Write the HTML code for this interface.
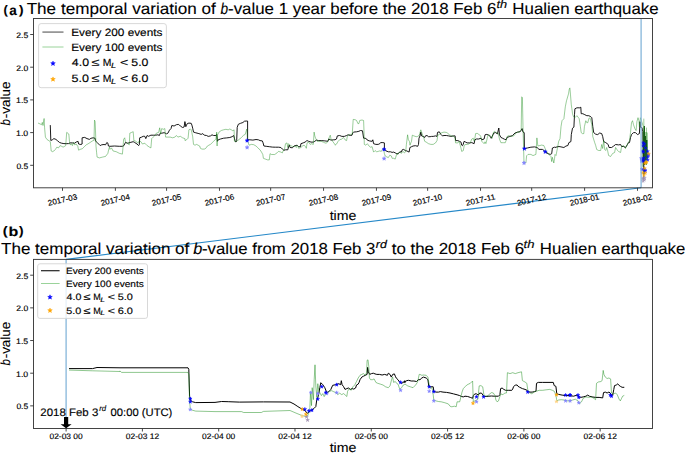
<!DOCTYPE html>
<html><head><meta charset="utf-8"><style>
html,body{margin:0;padding:0;background:#fff;}
svg{display:block;}
text{font-family:"Liberation Sans",sans-serif;text-rendering:geometricPrecision;}
</style></head><body>
<svg width="685" height="453" viewBox="0 0 685 453">
<rect width="685" height="453" fill="#fff"/>
<clipPath id="ca"><rect x="33.5" y="18.5" width="619.0" height="169.3"/></clipPath>
<clipPath id="cb"><rect x="33.5" y="259.4" width="619.0" height="169.10000000000002"/></clipPath>
<g clip-path="url(#ca)">
<polyline points="50.3,125.5 50.8,140.5 52.3,139.8 53.9,138.6 55.9,139.4 57.7,140.9 59.6,142.5 61.6,143.2 63.9,143.6 66.2,143.7 68.5,143.6 70.1,142.9 72.4,142.9 74.7,143.2 76.2,142.0 78.1,141.4 78.6,144.0 80.9,144.5 82.1,144.0 82.1,137.8 84.7,137.4 87.0,138.6 89.4,139.4 90.9,138.3 93.2,137.8 95.1,138.3 95.5,140.9 97.1,142.5 98.6,144.0 100.2,145.6 101.7,144.8 104.0,144.5 105.6,144.8 106.8,142.5 107.9,143.2 108.4,146.0 110.0,146.3 114.6,146.0 119.3,146.3 122.4,146.3 123.9,145.6 124.7,144.0 125.4,142.5 127.8,143.2 130.1,142.5 133.2,141.7 134.7,142.5 137.0,144.0 138.6,145.6 139.3,144.8 139.7,137.8 141.7,137.1 143.2,136.3 144.8,136.3 145.8,138.6 147.1,135.5 148.6,136.3 150.9,135.2 153.2,135.2 155.6,135.2 157.9,134.8 159.4,135.5 160.2,133.2 161.7,133.2 164.1,132.7 165.6,133.2 166.4,134.0 167.9,133.2 169.5,130.1 171.0,128.6 171.8,125.5 174.1,126.0 176.4,124.7 178.7,124.4 180.3,126.0 182.6,127.5 184.1,127.0 184.9,121.6 185.0,122.0 185.8,126.7 186.5,125.1 187.3,123.6 188.9,123.1 191.2,123.3 191.9,125.1 192.7,128.2 193.5,132.1 195.8,132.8 198.9,133.6 201.2,134.4 202.8,133.6 204.3,135.2 206.6,135.5 208.2,136.4 210.5,135.9 212.0,134.8 213.6,135.5 215.9,135.5 216.7,134.4 217.4,141.3 218.2,139.8 220.5,139.0 223.6,138.2 226.7,137.9 229.8,137.5 232.1,136.7 233.7,135.5 234.4,138.2 235.2,141.3 236.0,142.1 236.7,140.6 237.2,127.4 238.3,124.3 240.6,123.3 242.9,122.5 244.5,121.2 246.8,121.0 247.6,121.0 247.6,139.8 249.9,139.8 252.9,140.1 256.0,139.5 258.4,139.8 260.0,140.6 262.3,140.9 263.1,142.9 263.9,146.0 266.2,146.3 269.3,146.7 272.4,147.1 275.4,147.2 278.5,147.2 280.9,147.5 282.4,149.1 283.9,150.3 285.5,149.8 287.8,149.8 288.6,146.7 289.3,145.2 290.1,147.5 292.4,147.8 294.0,146.0 297.1,145.2 298.6,146.7 300.5,146.7 300.9,143.7 303.2,142.9 305.1,142.1 306.3,141.0 307.1,140.6 308.6,141.3 311.0,142.1 313.3,142.1 314.8,141.3 316.4,140.1 318.7,140.6 321.8,140.6 324.9,140.9 327.9,141.3 328.7,139.0 330.3,139.8 331.8,140.1 333.4,139.8 335.0,139.8 336.5,139.0 337.3,135.9 339.6,135.5 341.9,136.4 344.3,136.4 346.6,135.5 348.1,134.8 350.4,135.5 352.0,135.2 352.8,132.8 353.5,132.1 356.6,131.8 358.9,131.3 360.5,130.5 362.5,130.8 363.6,138.2 365.1,138.2 366.7,139.0 367.4,140.2 369.8,141.0 372.1,141.3 372.8,139.8 373.6,143.7 375.9,144.4 378.2,144.4 379.8,143.7 380.6,142.6 382.9,142.6 384.4,142.9 384.4,149.1 386.0,150.9 388.3,151.8 390.6,151.8 392.1,152.4 393.7,152.1 395.2,152.9 396.8,153.7 398.3,153.7 399.9,151.8 401.4,152.1 402.2,149.8 403.7,149.4 405.3,150.6 406.8,150.9 409.1,152.1 409.9,147.5 410.0,147.5 411.5,146.7 413.1,146.0 415.4,145.7 417.7,146.3 418.5,144.4 419.0,138.2 420.0,135.9 420.8,132.1 421.6,135.9 423.1,136.4 424.7,137.5 425.4,135.9 427.0,135.5 428.5,136.7 430.1,136.7 431.6,136.4 433.2,136.4 435.5,135.9 437.0,136.4 437.5,132.4 439.3,131.8 440.9,134.4 442.4,135.9 444.0,135.5 446.3,135.5 448.6,135.9 450.9,136.4 453.2,135.9 455.1,135.9 455.6,140.6 457.9,140.6 459.4,141.3 461.0,142.1 461.7,145.2 462.5,145.7 463.3,144.1 464.1,141.3 465.6,142.1 467.1,142.9 469.5,142.9 471.8,142.6 474.1,143.7 474.9,139.8 476.4,139.0 478.7,139.0 481.0,138.2 481.8,139.8 484.1,139.0 485.0,134.8 486.8,134.4 488.5,135.1 490.3,136.5 491.2,138.3 492.1,136.5 493.8,133.0 495.6,132.6 497.4,133.9 498.8,128.0 499.5,134.8 500.9,137.4 502.7,138.3 504.4,139.2 506.2,139.7 507.1,137.4 509.7,136.5 512.4,135.6 515.0,133.0 517.7,132.1 520.3,131.6 521.2,130.3 522.1,128.6 523.0,132.1 524.2,132.6 524.4,148.7 527.3,148.0 530.9,147.2 534.5,146.9 537.3,147.5 538.8,149.4 542.4,149.4 544.5,150.8 545.9,152.3 548.1,153.7 550.2,154.4 551.7,153.7 552.4,148.0 554.5,147.2 555.0,147.5 557.0,146.9 559.0,146.5 561.0,146.9 563.9,147.5 565.9,146.1 567.9,145.5 568.9,142.6 570.9,141.6 571.3,134.6 572.5,128.2 573.9,127.1 574.5,114.7 574.9,108.8 576.9,107.8 579.8,107.8 580.8,107.2 581.2,113.7 582.8,113.7 584.8,114.7 586.8,115.7 588.8,115.7 590.8,116.7 591.8,117.7 592.8,126.7 593.7,132.6 595.7,134.2 597.7,134.6 599.7,133.0 601.7,133.6 602.7,136.6 603.7,141.6 605.7,142.6 607.1,143.6 608.2,144.5 609.0,147.5 611.6,147.5 613.6,146.1 615.6,144.5 618.6,144.9 620.6,144.5 621.6,146.5 623.5,146.5 625.5,147.5 627.5,144.5 628.5,142.6 629.5,142.6 630.5,137.6 631.5,134.6 633.5,132.6 635.5,132.6 637.5,134.6 639.4,133.6 640.0,121.7 640.5,127.3 642.0,127.6 642.3,130.0 643.0,131.0 643.4,160.0 643.8,166.0 644.3,174.0" fill="none" stroke="#000" stroke-width="0.9" stroke-opacity="1" stroke-linejoin="round" stroke-linecap="round"/>
<polyline points="38.4,123.2 40.0,123.9 41.5,124.7 42.3,122.4 43.0,125.5 44.1,118.5 44.6,127.8 45.4,137.1 46.9,139.4 49.2,140.9 50.3,141.7 51.2,151.0 52.3,151.7 53.9,151.0 55.4,149.4 56.9,147.1 58.5,147.9 60.0,145.6 61.6,146.3 63.1,147.1 64.7,146.3 65.7,145.6 66.7,132.4 67.8,133.2 68.8,134.0 69.5,141.7 70.1,144.8 71.6,144.0 72.4,145.6 73.5,142.5 74.7,144.8 76.2,144.0 77.8,146.3 78.6,150.2 80.1,149.4 82.4,148.7 84.7,146.3 86.3,144.8 87.8,144.0 90.1,142.5 92.5,140.9 94.0,140.2 94.5,120.1 95.1,121.6 95.5,130.9 96.0,146.3 96.6,152.5 97.1,157.1 99.4,157.9 102.5,157.1 105.6,156.4 107.9,153.3 108.7,149.4 109.5,147.1 110.0,149.4 111.5,147.9 113.1,151.0 116.2,151.7 119.3,153.3 122.4,154.1 123.1,146.3 123.6,139.4 124.7,137.8 125.4,141.7 127.0,143.2 129.3,144.8 129.8,133.2 131.6,132.4 133.2,131.7 133.9,140.9 135.5,140.9 137.8,143.2 139.3,140.9 140.9,141.7 142.4,144.0 144.8,143.2 147.1,145.6 149.4,147.1 150.9,147.9 151.7,138.6 153.2,137.1 154.8,135.5 156.3,133.2 158.7,132.4 159.7,127.8 160.7,134.0 161.7,128.6 163.3,129.3 164.8,128.6 165.6,137.1 167.9,137.1 170.2,137.1 172.6,137.8 174.9,137.1 176.4,135.5 177.9,137.1 180.3,136.3 182.6,137.8 184.9,138.6 185.0,140.6 186.5,139.8 188.1,138.2 188.9,129.8 190.4,129.0 191.2,129.8 191.9,132.8 192.7,136.7 193.5,144.4 195.0,145.2 196.6,144.4 198.1,145.2 199.7,146.0 200.4,148.3 202.0,149.1 204.3,149.1 205.8,148.3 207.4,146.0 208.9,145.2 210.5,144.4 212.0,142.9 213.6,141.3 215.1,139.8 215.9,139.0 216.7,132.1 217.1,146.0 217.4,135.2 219.0,132.1 221.3,130.5 223.6,129.8 225.9,129.3 228.2,129.8 229.8,129.0 231.3,129.8 232.9,130.8 234.1,129.8 234.4,141.3 236.0,141.3 237.5,140.6 239.8,139.0 242.1,136.7 243.7,135.2 245.2,134.4 246.8,129.0 247.6,141.3 249.1,145.2 251.4,144.4 253.7,144.7 256.0,146.0 257.6,147.5 259.1,149.1 260.0,149.8 261.5,152.1 262.8,154.5 263.4,158.3 265.4,159.1 267.7,159.9 269.3,159.9 270.0,153.7 271.6,154.5 274.7,154.5 277.0,152.9 278.5,151.4 280.9,152.1 282.4,152.9 283.2,150.6 284.4,149.8 285.5,143.7 287.0,142.9 287.8,147.5 288.6,143.7 290.1,145.2 291.7,146.0 293.2,146.7 294.8,146.0 296.3,147.5 297.1,145.2 297.8,146.0 298.6,148.3 300.9,147.5 302.5,146.0 304.0,145.2 305.6,146.7 306.3,148.3 307.1,142.9 308.6,142.1 310.2,144.4 311.7,143.7 313.3,144.4 314.1,132.1 314.8,135.9 315.6,138.2 316.4,139.8 317.1,141.3 318.7,141.3 321.0,141.3 323.3,142.1 324.9,142.9 326.4,143.2 327.9,141.3 329.5,136.7 330.3,135.2 331.0,139.0 332.6,141.3 334.9,144.4 335.0,145.2 336.5,144.1 338.1,141.3 339.6,139.8 341.9,139.0 343.5,137.5 345.0,139.8 346.6,140.6 347.4,135.9 349.7,134.4 351.7,134.4 352.3,133.3 353.2,119.4 355.1,119.7 356.6,120.5 357.9,123.6 358.9,123.6 359.7,120.5 362.0,120.0 363.6,120.5 364.0,131.3 364.3,144.4 365.9,145.2 367.4,143.7 369.0,146.0 370.5,147.2 372.1,146.7 373.6,152.1 375.1,150.6 376.7,151.8 378.2,151.4 379.8,150.9 381.3,151.4 382.1,149.8 383.6,148.3 384.4,153.7 385.2,156.0 386.7,156.8 388.3,157.6 389.8,155.2 391.4,156.0 392.1,158.3 393.7,158.3 395.2,159.1 396.8,153.7 397.6,154.5 398.3,152.9 399.9,152.1 401.4,153.4 402.9,151.4 404.5,152.9 405.7,151.4 406.4,144.4 407.6,134.8 408.4,139.8 409.4,141.3 410.0,145.2 410.8,142.9 411.5,141.3 412.3,135.2 413.9,135.9 416.2,136.7 417.7,136.4 419.3,135.2 420.8,129.8 422.1,133.6 423.9,138.2 424.7,141.3 426.2,142.1 428.5,143.7 430.9,144.4 433.2,144.4 435.5,142.9 437.0,140.6 437.8,135.2 439.3,134.4 441.7,132.8 444.0,132.1 446.3,132.4 447.8,133.3 449.4,134.8 451.7,135.9 454.0,136.7 455.1,138.2 455.6,142.9 457.9,142.9 459.1,141.3 460.2,145.2 461.0,148.3 461.7,151.4 463.3,150.6 464.1,146.0 464.8,144.7 467.1,144.4 468.7,144.1 470.2,142.9 471.8,139.0 473.3,138.2 474.1,141.3 474.9,138.2 475.6,133.6 477.2,133.3 478.7,134.4 480.3,135.5 481.0,137.0 481.8,141.3 484.1,143.7 485.0,141.8 485.9,143.6 486.8,140.0 487.6,136.5 488.5,134.8 490.3,135.6 492.1,138.3 493.5,132.1 494.7,131.2 496.5,133.0 498.2,133.0 499.5,139.2 500.9,142.7 503.5,142.7 505.3,142.7 506.2,140.0 507.1,136.5 508.8,135.6 511.5,136.5 514.1,135.6 515.9,133.0 517.7,132.1 519.4,132.1 521.2,129.4 521.7,96.8 522.4,97.7 523.0,127.7 524.0,163.0 525.9,163.0 526.6,155.8 528.0,154.4 530.9,154.4 533.0,155.6 535.9,154.4 536.9,137.9 537.8,145.8 538.8,145.8 541.6,145.1 543.8,145.5 545.2,148.7 546.6,151.5 548.8,154.4 551.0,156.6 551.7,161.6 552.4,157.3 553.8,163.0 554.5,158.7 555.0,154.5 556.0,155.5 557.4,148.5 558.6,141.6 560.0,138.6 561.0,126.7 562.0,120.7 563.9,118.7 565.3,106.8 566.5,100.8 568.5,93.9 569.3,88.9 569.9,87.9 570.5,94.9 571.3,104.8 571.9,108.8 572.5,113.7 573.5,116.7 574.9,117.7 576.9,115.7 578.5,117.7 579.2,118.7 580.4,126.7 581.2,132.6 582.4,133.6 583.8,133.6 584.4,126.7 585.8,120.7 586.8,122.7 587.8,122.7 588.8,118.7 589.8,117.7 590.8,120.7 591.8,124.7 592.8,136.6 594.7,142.6 595.7,145.5 596.7,149.5 598.7,150.5 600.7,150.5 601.7,144.5 602.7,148.5 603.7,140.6 604.7,149.5 605.7,150.5 606.7,147.5 607.6,150.5 608.6,155.5 610.6,156.5 612.6,153.5 614.6,152.5 615.6,147.5 617.6,150.5 618.6,151.5 620.6,152.5 621.6,146.5 623.5,145.5 625.5,148.5 627.5,143.6 629.5,140.6 630.5,132.6 631.5,122.7 632.5,120.7 633.5,124.7 634.9,128.7 636.1,130.6 636.9,121.7 638.0,117.7 638.9,120.7 639.4,126.7 640.4,117.7 643.5,127.0 643.8,160.0 644.5,128.0 645.2,163.0 646.0,132.0 646.5,165.0 647.0,140.0 647.3,160.0" fill="none" stroke="#1a8c1a" stroke-width="0.8" stroke-opacity="0.55" stroke-linejoin="round" stroke-linecap="round"/>
<path d="M0.00,-2.50L-0.56,-0.77L-2.38,-0.77L-0.91,0.30L-1.47,2.02L-0.00,0.95L1.47,2.02L0.91,0.30L2.38,-0.77L0.56,-0.77Z" transform="translate(247.1,140.6) scale(0.82)" fill="#0000ff" fill-opacity="1" stroke="#0000ff" stroke-opacity="1" stroke-width="0.6" stroke-linejoin="round"/>
<path d="M0.00,-2.50L-0.56,-0.77L-2.38,-0.77L-0.91,0.30L-1.47,2.02L-0.00,0.95L1.47,2.02L0.91,0.30L2.38,-0.77L0.56,-0.77Z" transform="translate(247.1,147.5) scale(0.82)" fill="#8080ff" fill-opacity="1" stroke="#8080ff" stroke-opacity="1" stroke-width="0.6" stroke-linejoin="round"/>
<path d="M0.00,-2.50L-0.56,-0.77L-2.38,-0.77L-0.91,0.30L-1.47,2.02L-0.00,0.95L1.47,2.02L0.91,0.30L2.38,-0.77L0.56,-0.77Z" transform="translate(384.1,149.4) scale(0.82)" fill="#0000ff" fill-opacity="1" stroke="#0000ff" stroke-opacity="1" stroke-width="0.6" stroke-linejoin="round"/>
<path d="M0.00,-2.50L-0.56,-0.77L-2.38,-0.77L-0.91,0.30L-1.47,2.02L-0.00,0.95L1.47,2.02L0.91,0.30L2.38,-0.77L0.56,-0.77Z" transform="translate(384.1,158.6) scale(0.82)" fill="#8080ff" fill-opacity="1" stroke="#8080ff" stroke-opacity="1" stroke-width="0.6" stroke-linejoin="round"/>
<path d="M0.00,-2.50L-0.56,-0.77L-2.38,-0.77L-0.91,0.30L-1.47,2.02L-0.00,0.95L1.47,2.02L0.91,0.30L2.38,-0.77L0.56,-0.77Z" transform="translate(524.4,148.7) scale(0.82)" fill="#0000ff" fill-opacity="1" stroke="#0000ff" stroke-opacity="1" stroke-width="0.6" stroke-linejoin="round"/>
<path d="M0.00,-2.50L-0.56,-0.77L-2.38,-0.77L-0.91,0.30L-1.47,2.02L-0.00,0.95L1.47,2.02L0.91,0.30L2.38,-0.77L0.56,-0.77Z" transform="translate(524.0,163.0) scale(0.82)" fill="#8080ff" fill-opacity="1" stroke="#8080ff" stroke-opacity="1" stroke-width="0.6" stroke-linejoin="round"/>
<path d="M0.00,-2.50L-0.56,-0.77L-2.38,-0.77L-0.91,0.30L-1.47,2.02L-0.00,0.95L1.47,2.02L0.91,0.30L2.38,-0.77L0.56,-0.77Z" transform="translate(545.2,151.8) scale(0.82)" fill="#0000ff" fill-opacity="1" stroke="#0000ff" stroke-opacity="1" stroke-width="0.6" stroke-linejoin="round"/>
<polyline points="643.8,119.0 644.0,150.0" fill="none" stroke="#1a8c1a" stroke-width="0.7" stroke-opacity="0.6" stroke-linejoin="round" stroke-linecap="round"/>
<polyline points="646.5,128.0 646.8,160.0" fill="none" stroke="#1a8c1a" stroke-width="0.7" stroke-opacity="0.6" stroke-linejoin="round" stroke-linecap="round"/>
<polyline points="647.3,133.0 647.5,158.0" fill="none" stroke="#1a8c1a" stroke-width="0.7" stroke-opacity="0.6" stroke-linejoin="round" stroke-linecap="round"/>
<polyline points="642.5,163.0 642.6,166.5" fill="none" stroke="#1a8c1a" stroke-width="0.7" stroke-opacity="0.6" stroke-linejoin="round" stroke-linecap="round"/>
<polyline points="643.0,132.0 643.2,162.0 644.4,126.0 644.6,165.0 645.4,136.0 645.8,160.0 646.6,140.0 647.0,158.0" fill="none" stroke="#0b4d0b" stroke-width="0.9" stroke-opacity="0.85" stroke-linejoin="round" stroke-linecap="round"/>
<polyline points="643.4,150.0 643.5,178.5" fill="none" stroke="#1a3a1a" stroke-width="0.7" stroke-opacity="0.8" stroke-linejoin="round" stroke-linecap="round"/>
<path d="M0.00,-2.50L-0.56,-0.77L-2.38,-0.77L-0.91,0.30L-1.47,2.02L-0.00,0.95L1.47,2.02L0.91,0.30L2.38,-0.77L0.56,-0.77Z" transform="translate(643.1,142.8) scale(0.72)" fill="#0000ff" fill-opacity="0.8" stroke="#0000ff" stroke-opacity="0.8" stroke-width="0.6" stroke-linejoin="round"/>
<path d="M0.00,-2.50L-0.56,-0.77L-2.38,-0.77L-0.91,0.30L-1.47,2.02L-0.00,0.95L1.47,2.02L0.91,0.30L2.38,-0.77L0.56,-0.77Z" transform="translate(643.1,145.7) scale(0.72)" fill="#0000ff" fill-opacity="0.8" stroke="#0000ff" stroke-opacity="0.8" stroke-width="0.6" stroke-linejoin="round"/>
<path d="M0.00,-2.50L-0.56,-0.77L-2.38,-0.77L-0.91,0.30L-1.47,2.02L-0.00,0.95L1.47,2.02L0.91,0.30L2.38,-0.77L0.56,-0.77Z" transform="translate(642.7,151.3) scale(0.72)" fill="#0000ff" fill-opacity="0.8" stroke="#0000ff" stroke-opacity="0.8" stroke-width="0.6" stroke-linejoin="round"/>
<path d="M0.00,-2.50L-0.56,-0.77L-2.38,-0.77L-0.91,0.30L-1.47,2.02L-0.00,0.95L1.47,2.02L0.91,0.30L2.38,-0.77L0.56,-0.77Z" transform="translate(643.4,152.0) scale(0.72)" fill="#0000ff" fill-opacity="0.8" stroke="#0000ff" stroke-opacity="0.8" stroke-width="0.6" stroke-linejoin="round"/>
<path d="M0.00,-2.50L-0.56,-0.77L-2.38,-0.77L-0.91,0.30L-1.47,2.02L-0.00,0.95L1.47,2.02L0.91,0.30L2.38,-0.77L0.56,-0.77Z" transform="translate(648.4,154.5) scale(0.72)" fill="#0000ff" fill-opacity="0.8" stroke="#0000ff" stroke-opacity="0.8" stroke-width="0.6" stroke-linejoin="round"/>
<path d="M0.00,-2.50L-0.56,-0.77L-2.38,-0.77L-0.91,0.30L-1.47,2.02L-0.00,0.95L1.47,2.02L0.91,0.30L2.38,-0.77L0.56,-0.77Z" transform="translate(647.7,151.3) scale(0.72)" fill="#0000ff" fill-opacity="0.8" stroke="#0000ff" stroke-opacity="0.8" stroke-width="0.6" stroke-linejoin="round"/>
<path d="M0.00,-2.50L-0.56,-0.77L-2.38,-0.77L-0.91,0.30L-1.47,2.02L-0.00,0.95L1.47,2.02L0.91,0.30L2.38,-0.77L0.56,-0.77Z" transform="translate(641.3,158.4) scale(0.72)" fill="#0000ff" fill-opacity="0.8" stroke="#0000ff" stroke-opacity="0.8" stroke-width="0.6" stroke-linejoin="round"/>
<path d="M0.00,-2.50L-0.56,-0.77L-2.38,-0.77L-0.91,0.30L-1.47,2.02L-0.00,0.95L1.47,2.02L0.91,0.30L2.38,-0.77L0.56,-0.77Z" transform="translate(642.4,159.8) scale(0.72)" fill="#0000ff" fill-opacity="0.8" stroke="#0000ff" stroke-opacity="0.8" stroke-width="0.6" stroke-linejoin="round"/>
<path d="M0.00,-2.50L-0.56,-0.77L-2.38,-0.77L-0.91,0.30L-1.47,2.02L-0.00,0.95L1.47,2.02L0.91,0.30L2.38,-0.77L0.56,-0.77Z" transform="translate(644.1,158.0) scale(0.72)" fill="#0000ff" fill-opacity="0.8" stroke="#0000ff" stroke-opacity="0.8" stroke-width="0.6" stroke-linejoin="round"/>
<path d="M0.00,-2.50L-0.56,-0.77L-2.38,-0.77L-0.91,0.30L-1.47,2.02L-0.00,0.95L1.47,2.02L0.91,0.30L2.38,-0.77L0.56,-0.77Z" transform="translate(648.0,156.6) scale(0.72)" fill="#0000ff" fill-opacity="0.8" stroke="#0000ff" stroke-opacity="0.8" stroke-width="0.6" stroke-linejoin="round"/>
<path d="M0.00,-2.50L-0.56,-0.77L-2.38,-0.77L-0.91,0.30L-1.47,2.02L-0.00,0.95L1.47,2.02L0.91,0.30L2.38,-0.77L0.56,-0.77Z" transform="translate(647.7,159.8) scale(0.72)" fill="#0000ff" fill-opacity="0.8" stroke="#0000ff" stroke-opacity="0.8" stroke-width="0.6" stroke-linejoin="round"/>
<path d="M0.00,-2.50L-0.56,-0.77L-2.38,-0.77L-0.91,0.30L-1.47,2.02L-0.00,0.95L1.47,2.02L0.91,0.30L2.38,-0.77L0.56,-0.77Z" transform="translate(641.7,161.2) scale(0.72)" fill="#0000ff" fill-opacity="0.8" stroke="#0000ff" stroke-opacity="0.8" stroke-width="0.6" stroke-linejoin="round"/>
<path d="M0.00,-2.50L-0.56,-0.77L-2.38,-0.77L-0.91,0.30L-1.47,2.02L-0.00,0.95L1.47,2.02L0.91,0.30L2.38,-0.77L0.56,-0.77Z" transform="translate(644.0,161.2) scale(0.72)" fill="#0000ff" fill-opacity="0.8" stroke="#0000ff" stroke-opacity="0.8" stroke-width="0.6" stroke-linejoin="round"/>
<path d="M0.00,-2.50L-0.56,-0.77L-2.38,-0.77L-0.91,0.30L-1.47,2.02L-0.00,0.95L1.47,2.02L0.91,0.30L2.38,-0.77L0.56,-0.77Z" transform="translate(641.9,169.3) scale(0.72)" fill="#0000ff" fill-opacity="0.8" stroke="#0000ff" stroke-opacity="0.8" stroke-width="0.6" stroke-linejoin="round"/>
<path d="M0.00,-2.50L-0.56,-0.77L-2.38,-0.77L-0.91,0.30L-1.47,2.02L-0.00,0.95L1.47,2.02L0.91,0.30L2.38,-0.77L0.56,-0.77Z" transform="translate(645.0,169.9) scale(0.72)" fill="#0000ff" fill-opacity="0.8" stroke="#0000ff" stroke-opacity="0.8" stroke-width="0.6" stroke-linejoin="round"/>
<path d="M0.00,-2.50L-0.56,-0.77L-2.38,-0.77L-0.91,0.30L-1.47,2.02L-0.00,0.95L1.47,2.02L0.91,0.30L2.38,-0.77L0.56,-0.77Z" transform="translate(645.3,171.1) scale(0.72)" fill="#0000ff" fill-opacity="0.8" stroke="#0000ff" stroke-opacity="0.8" stroke-width="0.6" stroke-linejoin="round"/>
<path d="M0.00,-2.50L-0.56,-0.77L-2.38,-0.77L-0.91,0.30L-1.47,2.02L-0.00,0.95L1.47,2.02L0.91,0.30L2.38,-0.77L0.56,-0.77Z" transform="translate(644.5,144.0) scale(0.72)" fill="#0000ff" fill-opacity="0.8" stroke="#0000ff" stroke-opacity="0.8" stroke-width="0.6" stroke-linejoin="round"/>
<path d="M0.00,-2.50L-0.56,-0.77L-2.38,-0.77L-0.91,0.30L-1.47,2.02L-0.00,0.95L1.47,2.02L0.91,0.30L2.38,-0.77L0.56,-0.77Z" transform="translate(645.5,148.0) scale(0.72)" fill="#0000ff" fill-opacity="0.8" stroke="#0000ff" stroke-opacity="0.8" stroke-width="0.6" stroke-linejoin="round"/>
<path d="M0.00,-2.50L-0.56,-0.77L-2.38,-0.77L-0.91,0.30L-1.47,2.02L-0.00,0.95L1.47,2.02L0.91,0.30L2.38,-0.77L0.56,-0.77Z" transform="translate(648.7,153.8) scale(0.72)" fill="#ffa500" fill-opacity="0.8" stroke="#ffa500" stroke-opacity="0.8" stroke-width="0.6" stroke-linejoin="round"/>
<path d="M0.00,-2.50L-0.56,-0.77L-2.38,-0.77L-0.91,0.30L-1.47,2.02L-0.00,0.95L1.47,2.02L0.91,0.30L2.38,-0.77L0.56,-0.77Z" transform="translate(644.8,163.4) scale(0.72)" fill="#ffa500" fill-opacity="0.8" stroke="#ffa500" stroke-opacity="0.8" stroke-width="0.6" stroke-linejoin="round"/>
<path d="M0.00,-2.50L-0.56,-0.77L-2.38,-0.77L-0.91,0.30L-1.47,2.02L-0.00,0.95L1.47,2.02L0.91,0.30L2.38,-0.77L0.56,-0.77Z" transform="translate(646.6,162.0) scale(0.72)" fill="#ffa500" fill-opacity="0.8" stroke="#ffa500" stroke-opacity="0.8" stroke-width="0.6" stroke-linejoin="round"/>
<path d="M0.00,-2.50L-0.56,-0.77L-2.38,-0.77L-0.91,0.30L-1.47,2.02L-0.00,0.95L1.47,2.02L0.91,0.30L2.38,-0.77L0.56,-0.77Z" transform="translate(645.9,162.5) scale(0.72)" fill="#ffa500" fill-opacity="0.8" stroke="#ffa500" stroke-opacity="0.8" stroke-width="0.6" stroke-linejoin="round"/>
<path d="M0.00,-2.50L-0.56,-0.77L-2.38,-0.77L-0.91,0.30L-1.47,2.02L-0.00,0.95L1.47,2.02L0.91,0.30L2.38,-0.77L0.56,-0.77Z" transform="translate(644.6,168.3) scale(0.72)" fill="#ffa500" fill-opacity="0.8" stroke="#ffa500" stroke-opacity="0.8" stroke-width="0.6" stroke-linejoin="round"/>
<path d="M0.00,-2.50L-0.56,-0.77L-2.38,-0.77L-0.91,0.30L-1.47,2.02L-0.00,0.95L1.47,2.02L0.91,0.30L2.38,-0.77L0.56,-0.77Z" transform="translate(645.3,173.0) scale(0.72)" fill="#ffa500" fill-opacity="0.8" stroke="#ffa500" stroke-opacity="0.8" stroke-width="0.6" stroke-linejoin="round"/>
<path d="M0.00,-2.50L-0.56,-0.77L-2.38,-0.77L-0.91,0.30L-1.47,2.02L-0.00,0.95L1.47,2.02L0.91,0.30L2.38,-0.77L0.56,-0.77Z" transform="translate(642.2,172.7) scale(0.72)" fill="#ffa500" fill-opacity="0.8" stroke="#ffa500" stroke-opacity="0.8" stroke-width="0.6" stroke-linejoin="round"/>
<path d="M0.00,-2.50L-0.56,-0.77L-2.38,-0.77L-0.91,0.30L-1.47,2.02L-0.00,0.95L1.47,2.02L0.91,0.30L2.38,-0.77L0.56,-0.77Z" transform="translate(644.0,175.4) scale(0.72)" fill="#ffa500" fill-opacity="0.8" stroke="#ffa500" stroke-opacity="0.8" stroke-width="0.6" stroke-linejoin="round"/>
<path d="M0.00,-2.50L-0.56,-0.77L-2.38,-0.77L-0.91,0.30L-1.47,2.02L-0.00,0.95L1.47,2.02L0.91,0.30L2.38,-0.77L0.56,-0.77Z" transform="translate(642.8,178.5) scale(0.72)" fill="#9f8fb0" fill-opacity="0.8" stroke="#9f8fb0" stroke-opacity="0.8" stroke-width="0.6" stroke-linejoin="round"/>
<path d="M0.00,-2.50L-0.56,-0.77L-2.38,-0.77L-0.91,0.30L-1.47,2.02L-0.00,0.95L1.47,2.02L0.91,0.30L2.38,-0.77L0.56,-0.77Z" transform="translate(644.3,179.8) scale(0.72)" fill="#9f8fb0" fill-opacity="0.8" stroke="#9f8fb0" stroke-opacity="0.8" stroke-width="0.6" stroke-linejoin="round"/>
<path d="M0.00,-2.50L-0.56,-0.77L-2.38,-0.77L-0.91,0.30L-1.47,2.02L-0.00,0.95L1.47,2.02L0.91,0.30L2.38,-0.77L0.56,-0.77Z" transform="translate(643.1,181.0) scale(0.72)" fill="#9f8fb0" fill-opacity="0.8" stroke="#9f8fb0" stroke-opacity="0.8" stroke-width="0.6" stroke-linejoin="round"/>
<path d="M0.00,-2.50L-0.56,-0.77L-2.38,-0.77L-0.91,0.30L-1.47,2.02L-0.00,0.95L1.47,2.02L0.91,0.30L2.38,-0.77L0.56,-0.77Z" transform="translate(644.6,177.9) scale(0.72)" fill="#9f8fb0" fill-opacity="0.8" stroke="#9f8fb0" stroke-opacity="0.8" stroke-width="0.6" stroke-linejoin="round"/>
</g>
<g clip-path="url(#cb)">
<polyline points="69.4,368.6 92.6,368.6 97.0,367.5 120.0,367.8 188.0,367.8 188.8,369.3 189.6,396.4 190.3,400.2 192.6,401.8 195.7,402.6 215.0,402.4 221.6,401.5 228.2,401.7 239.3,402.1 263.5,401.9 290.0,402.0 294.0,404.0 297.9,406.6 301.9,409.1 304.9,410.5 307.5,413.5 308.9,411.9 310.9,410.5 313.8,408.6 315.8,406.6 316.8,399.6 317.8,397.6 318.8,393.6 319.8,387.7 320.8,382.7 322.8,384.7 324.8,387.7 326.8,392.6 328.7,391.7 330.7,389.7 332.7,385.3 335.7,384.7 338.7,383.7 340.7,384.7 341.3,380.7 342.1,384.7 343.6,386.7 345.0,389.4 346.8,388.6 348.5,388.0 350.3,389.4 352.1,388.6 353.8,389.1 355.6,388.0 356.5,385.0 358.2,384.1 359.1,382.4 360.0,379.7 361.8,377.1 363.5,376.2 365.3,375.3 367.1,374.4 367.6,367.4 368.3,371.8 369.7,374.4 371.5,373.6 373.3,373.2 375.0,373.9 376.8,374.4 379.4,374.4 382.1,375.0 384.7,374.4 387.4,375.3 388.3,373.2 390.0,374.4 391.3,377.1 392.7,374.4 394.4,373.9 395.3,376.2 396.2,378.0 398.0,379.7 399.8,382.4 401.5,383.3 403.3,382.4 405.0,381.5 406.8,380.6 408.6,380.3 411.2,381.0 413.9,381.0 416.5,381.5 418.3,379.7 420.0,379.7 421.8,378.0 423.5,377.1 426.2,378.0 427.9,379.7 428.8,386.3 430.6,386.8 433.2,386.8 433.8,391.2 435.9,392.1 438.5,392.1 440.3,391.6 443.0,392.1 446.5,392.4 450.0,393.0 453.6,393.9 457.1,394.8 459.7,395.6 461.5,396.5 463.3,396.9 465.0,396.2 467.7,396.5 470.3,397.4 472.6,398.3 473.3,395.6 474.8,393.9 476.5,393.9 478.3,395.1 479.7,393.0 481.8,393.3 483.6,396.2 486.2,396.5 488.9,396.2 491.5,396.0 494.2,396.2 495.0,396.2 498.5,396.2 499.9,394.8 500.6,388.6 502.1,388.0 503.8,389.4 505.6,390.3 508.2,390.3 511.8,390.3 512.7,389.1 513.5,386.8 515.3,385.0 517.1,385.0 518.0,386.3 519.7,387.3 522.4,388.6 525.0,389.4 527.1,390.3 527.7,391.6 529.4,392.1 532.1,392.1 534.7,391.6 536.0,391.2 536.5,383.3 538.3,382.4 542.7,382.4 548.0,382.4 553.3,382.4 554.2,385.6 555.9,386.3 556.8,393.9 558.6,394.4 562.1,395.1 565.6,395.6 569.2,395.6 570.0,395.6 573.5,396.2 577.1,395.1 578.8,396.5 580.6,397.4 583.2,396.9 585.9,396.2 587.7,395.1 589.4,396.2 592.1,396.9 595.6,397.4 599.1,397.4 602.7,397.9 603.5,392.6 605.3,392.1 607.1,393.0 608.9,392.1 610.3,393.0 611.5,395.6 612.7,395.1 613.8,389.4 614.5,385.6 616.3,385.0 617.7,383.8 618.6,385.0 620.3,386.3 622.1,387.3 623.9,387.3" fill="none" stroke="#000" stroke-width="1.0" stroke-opacity="1" stroke-linejoin="round" stroke-linecap="round"/>
<polyline points="69.4,370.1 92.6,370.8 120.0,371.5 120.0,370.9 121.5,372.4 188.0,372.4 188.8,374.7 189.6,401.0 190.3,408.7 192.6,410.3 195.7,411.1 215.0,411.6 241.5,411.6 243.7,412.5 261.3,412.5 263.5,411.4 290.0,410.5 296.0,413.1 301.9,415.5 305.9,416.5 307.9,415.5 309.9,407.6 310.5,391.7 311.5,405.6 312.2,387.7 313.4,399.6 314.2,379.7 315.0,364.8 315.8,385.7 316.8,397.6 317.8,383.7 318.8,390.7 319.8,392.6 321.4,395.6 322.8,393.6 324.2,396.6 325.8,393.6 327.8,392.6 329.7,391.3 331.7,390.7 333.7,391.7 335.7,392.6 337.7,394.6 339.7,393.2 341.7,394.6 343.6,393.6 345.0,394.8 346.8,396.5 347.6,391.2 349.4,388.6 351.2,390.3 352.9,386.8 354.7,385.0 356.5,381.5 358.2,378.0 360.0,375.3 361.8,374.4 363.5,373.6 365.3,375.3 366.6,372.7 367.1,360.3 368.0,359.8 368.8,366.5 369.4,378.0 370.6,379.7 372.4,379.7 374.1,378.9 375.9,382.4 377.7,383.3 380.3,384.1 383.0,385.0 385.6,386.8 388.3,387.7 390.0,385.9 391.8,378.9 392.7,377.1 393.6,382.4 395.3,381.5 396.6,383.3 398.0,384.1 399.8,389.4 401.5,387.7 403.3,385.0 405.0,384.1 407.7,385.9 410.3,386.8 413.0,387.7 415.6,385.0 417.4,382.4 418.3,378.9 419.2,374.4 420.0,374.4 421.8,375.3 423.5,375.0 426.2,375.3 427.9,377.1 428.8,382.4 429.7,387.7 431.5,387.7 432.7,390.3 433.8,400.0 435.9,400.9 438.5,401.5 441.2,401.8 444.7,402.7 448.3,403.9 450.0,406.2 451.8,406.8 454.4,406.2 456.2,406.8 457.1,401.8 459.7,401.8 461.0,396.5 462.0,392.1 463.3,388.6 465.0,386.8 466.8,385.0 468.6,384.1 470.3,383.3 472.6,381.0 473.3,401.8 474.8,400.9 476.5,400.0 477.9,399.2 479.2,385.9 480.9,385.6 482.7,386.8 483.9,394.8 485.3,396.2 488.0,395.6 489.8,393.9 491.5,392.6 493.3,393.0 495.0,395.6 495.9,400.0 497.1,401.8 498.5,400.9 499.9,396.5 501.2,393.9 502.9,394.8 504.7,393.0 506.5,393.0 507.4,372.7 510.0,373.6 512.7,372.7 515.3,373.6 518.0,372.7 521.5,371.8 522.4,380.6 525.0,382.0 526.8,383.3 527.7,389.4 529.4,392.1 531.2,393.9 533.0,393.0 534.7,391.6 536.5,391.2 539.1,390.3 542.7,390.3 546.2,389.8 549.8,389.4 552.4,390.3 554.2,391.2 555.9,394.8 556.8,400.9 558.6,400.0 561.2,399.7 563.9,400.0 567.4,400.9 570.0,400.9 572.6,400.0 575.3,399.2 578.0,400.9 579.7,403.6 581.5,401.8 583.2,398.3 585.9,396.9 588.5,397.4 591.2,396.9 593.8,398.3 595.6,399.7 596.5,383.3 598.3,382.0 600.9,381.5 602.1,380.6 603.2,370.4 603.9,374.4 605.3,377.1 607.1,378.5 608.9,378.0 610.6,378.9 611.5,393.0 613.3,393.9 615.6,393.0 617.3,394.8 619.1,399.2 620.3,400.9 621.6,398.3 622.6,396.2 623.9,395.6" fill="none" stroke="#1a8c1a" stroke-width="0.9" stroke-opacity="0.55" stroke-linejoin="round" stroke-linecap="round"/>
<path d="M0.00,-2.50L-0.56,-0.77L-2.38,-0.77L-0.91,0.30L-1.47,2.02L-0.00,0.95L1.47,2.02L0.91,0.30L2.38,-0.77L0.56,-0.77Z" transform="translate(190.3,398.7) scale(0.74)" fill="#0000ff" fill-opacity="1" stroke="#0000ff" stroke-opacity="1" stroke-width="0.6" stroke-linejoin="round"/>
<path d="M0.00,-2.50L-0.56,-0.77L-2.38,-0.77L-0.91,0.30L-1.47,2.02L-0.00,0.95L1.47,2.02L0.91,0.30L2.38,-0.77L0.56,-0.77Z" transform="translate(190.3,401.8) scale(0.74)" fill="#0000ff" fill-opacity="1" stroke="#0000ff" stroke-opacity="1" stroke-width="0.6" stroke-linejoin="round"/>
<path d="M0.00,-2.50L-0.56,-0.77L-2.38,-0.77L-0.91,0.30L-1.47,2.02L-0.00,0.95L1.47,2.02L0.91,0.30L2.38,-0.77L0.56,-0.77Z" transform="translate(190.3,409.5) scale(0.74)" fill="#8080ff" fill-opacity="1" stroke="#8080ff" stroke-opacity="1" stroke-width="0.6" stroke-linejoin="round"/>
<path d="M0.00,-2.50L-0.56,-0.77L-2.38,-0.77L-0.91,0.30L-1.47,2.02L-0.00,0.95L1.47,2.02L0.91,0.30L2.38,-0.77L0.56,-0.77Z" transform="translate(310.9,392.6) scale(0.74)" fill="#8080ff" fill-opacity="1" stroke="#8080ff" stroke-opacity="1" stroke-width="0.6" stroke-linejoin="round"/>
<path d="M0.00,-2.50L-0.56,-0.77L-2.38,-0.77L-0.91,0.30L-1.47,2.02L-0.00,0.95L1.47,2.02L0.91,0.30L2.38,-0.77L0.56,-0.77Z" transform="translate(317.8,393.6) scale(0.74)" fill="#8080ff" fill-opacity="1" stroke="#8080ff" stroke-opacity="1" stroke-width="0.6" stroke-linejoin="round"/>
<path d="M0.00,-2.50L-0.56,-0.77L-2.38,-0.77L-0.91,0.30L-1.47,2.02L-0.00,0.95L1.47,2.02L0.91,0.30L2.38,-0.77L0.56,-0.77Z" transform="translate(326.8,393.6) scale(0.74)" fill="#8080ff" fill-opacity="1" stroke="#8080ff" stroke-opacity="1" stroke-width="0.6" stroke-linejoin="round"/>
<path d="M0.00,-2.50L-0.56,-0.77L-2.38,-0.77L-0.91,0.30L-1.47,2.02L-0.00,0.95L1.47,2.02L0.91,0.30L2.38,-0.77L0.56,-0.77Z" transform="translate(336.7,392.6) scale(0.74)" fill="#8080ff" fill-opacity="1" stroke="#8080ff" stroke-opacity="1" stroke-width="0.6" stroke-linejoin="round"/>
<path d="M0.00,-2.50L-0.56,-0.77L-2.38,-0.77L-0.91,0.30L-1.47,2.02L-0.00,0.95L1.47,2.02L0.91,0.30L2.38,-0.77L0.56,-0.77Z" transform="translate(317.8,399.0) scale(0.74)" fill="#0000ff" fill-opacity="1" stroke="#0000ff" stroke-opacity="1" stroke-width="0.6" stroke-linejoin="round"/>
<path d="M0.00,-2.50L-0.56,-0.77L-2.38,-0.77L-0.91,0.30L-1.47,2.02L-0.00,0.95L1.47,2.02L0.91,0.30L2.38,-0.77L0.56,-0.77Z" transform="translate(321.8,386.7) scale(0.74)" fill="#0000ff" fill-opacity="1" stroke="#0000ff" stroke-opacity="1" stroke-width="0.6" stroke-linejoin="round"/>
<path d="M0.00,-2.50L-0.56,-0.77L-2.38,-0.77L-0.91,0.30L-1.47,2.02L-0.00,0.95L1.47,2.02L0.91,0.30L2.38,-0.77L0.56,-0.77Z" transform="translate(325.8,392.6) scale(0.74)" fill="#0000ff" fill-opacity="1" stroke="#0000ff" stroke-opacity="1" stroke-width="0.6" stroke-linejoin="round"/>
<path d="M0.00,-2.50L-0.56,-0.77L-2.38,-0.77L-0.91,0.30L-1.47,2.02L-0.00,0.95L1.47,2.02L0.91,0.30L2.38,-0.77L0.56,-0.77Z" transform="translate(336.7,384.7) scale(0.74)" fill="#0000ff" fill-opacity="1" stroke="#0000ff" stroke-opacity="1" stroke-width="0.6" stroke-linejoin="round"/>
<path d="M0.00,-2.50L-0.56,-0.77L-2.38,-0.77L-0.91,0.30L-1.47,2.02L-0.00,0.95L1.47,2.02L0.91,0.30L2.38,-0.77L0.56,-0.77Z" transform="translate(302.0,416.2) scale(0.74)" fill="#ffd280" fill-opacity="1" stroke="#ffd280" stroke-opacity="1" stroke-width="0.6" stroke-linejoin="round"/>
<path d="M0.00,-2.50L-0.56,-0.77L-2.38,-0.77L-0.91,0.30L-1.47,2.02L-0.00,0.95L1.47,2.02L0.91,0.30L2.38,-0.77L0.56,-0.77Z" transform="translate(307.6,420.1) scale(0.74)" fill="#9f8fb0" fill-opacity="1" stroke="#9f8fb0" stroke-opacity="1" stroke-width="0.6" stroke-linejoin="round"/>
<path d="M0.00,-2.50L-0.56,-0.77L-2.38,-0.77L-0.91,0.30L-1.47,2.02L-0.00,0.95L1.47,2.02L0.91,0.30L2.38,-0.77L0.56,-0.77Z" transform="translate(306.6,416.8) scale(0.74)" fill="#9f8fb0" fill-opacity="1" stroke="#9f8fb0" stroke-opacity="1" stroke-width="0.6" stroke-linejoin="round"/>
<path d="M0.00,-2.50L-0.56,-0.77L-2.38,-0.77L-0.91,0.30L-1.47,2.02L-0.00,0.95L1.47,2.02L0.91,0.30L2.38,-0.77L0.56,-0.77Z" transform="translate(302.3,409.2) scale(0.74)" fill="#ffa500" fill-opacity="1" stroke="#ffa500" stroke-opacity="1" stroke-width="0.6" stroke-linejoin="round"/>
<path d="M0.00,-2.50L-0.56,-0.77L-2.38,-0.77L-0.91,0.30L-1.47,2.02L-0.00,0.95L1.47,2.02L0.91,0.30L2.38,-0.77L0.56,-0.77Z" transform="translate(305.9,414.2) scale(0.74)" fill="#ffa500" fill-opacity="1" stroke="#ffa500" stroke-opacity="1" stroke-width="0.6" stroke-linejoin="round"/>
<path d="M0.00,-2.50L-0.56,-0.77L-2.38,-0.77L-0.91,0.30L-1.47,2.02L-0.00,0.95L1.47,2.02L0.91,0.30L2.38,-0.77L0.56,-0.77Z" transform="translate(304.9,409.2) scale(0.74)" fill="#0000ff" fill-opacity="1" stroke="#0000ff" stroke-opacity="1" stroke-width="0.6" stroke-linejoin="round"/>
<path d="M0.00,-2.50L-0.56,-0.77L-2.38,-0.77L-0.91,0.30L-1.47,2.02L-0.00,0.95L1.47,2.02L0.91,0.30L2.38,-0.77L0.56,-0.77Z" transform="translate(308.9,410.9) scale(0.74)" fill="#0000ff" fill-opacity="1" stroke="#0000ff" stroke-opacity="1" stroke-width="0.6" stroke-linejoin="round"/>
<path d="M0.00,-2.50L-0.56,-0.77L-2.38,-0.77L-0.91,0.30L-1.47,2.02L-0.00,0.95L1.47,2.02L0.91,0.30L2.38,-0.77L0.56,-0.77Z" transform="translate(311.9,410.2) scale(0.74)" fill="#0000ff" fill-opacity="1" stroke="#0000ff" stroke-opacity="1" stroke-width="0.6" stroke-linejoin="round"/>
<path d="M0.00,-2.50L-0.56,-0.77L-2.38,-0.77L-0.91,0.30L-1.47,2.02L-0.00,0.95L1.47,2.02L0.91,0.30L2.38,-0.77L0.56,-0.77Z" transform="translate(400.6,390.3) scale(0.74)" fill="#8080ff" fill-opacity="1" stroke="#8080ff" stroke-opacity="1" stroke-width="0.6" stroke-linejoin="round"/>
<path d="M0.00,-2.50L-0.56,-0.77L-2.38,-0.77L-0.91,0.30L-1.47,2.02L-0.00,0.95L1.47,2.02L0.91,0.30L2.38,-0.77L0.56,-0.77Z" transform="translate(400.6,382.4) scale(0.74)" fill="#0000ff" fill-opacity="1" stroke="#0000ff" stroke-opacity="1" stroke-width="0.6" stroke-linejoin="round"/>
<path d="M0.00,-2.50L-0.56,-0.77L-2.38,-0.77L-0.91,0.30L-1.47,2.02L-0.00,0.95L1.47,2.02L0.91,0.30L2.38,-0.77L0.56,-0.77Z" transform="translate(404.7,381.7) scale(0.74)" fill="k" fill-opacity="1" stroke="k" stroke-opacity="1" stroke-width="0.6" stroke-linejoin="round"/>
<path d="M0.00,-2.50L-0.56,-0.77L-2.38,-0.77L-0.91,0.30L-1.47,2.02L-0.00,0.95L1.47,2.02L0.91,0.30L2.38,-0.77L0.56,-0.77Z" transform="translate(429.2,391.2) scale(0.74)" fill="#8080ff" fill-opacity="1" stroke="#8080ff" stroke-opacity="1" stroke-width="0.6" stroke-linejoin="round"/>
<path d="M0.00,-2.50L-0.56,-0.77L-2.38,-0.77L-0.91,0.30L-1.47,2.02L-0.00,0.95L1.47,2.02L0.91,0.30L2.38,-0.77L0.56,-0.77Z" transform="translate(433.8,400.9) scale(0.74)" fill="#8080ff" fill-opacity="1" stroke="#8080ff" stroke-opacity="1" stroke-width="0.6" stroke-linejoin="round"/>
<path d="M0.00,-2.50L-0.56,-0.77L-2.38,-0.77L-0.91,0.30L-1.47,2.02L-0.00,0.95L1.47,2.02L0.91,0.30L2.38,-0.77L0.56,-0.77Z" transform="translate(476.5,401.8) scale(0.74)" fill="#8080ff" fill-opacity="1" stroke="#8080ff" stroke-opacity="1" stroke-width="0.6" stroke-linejoin="round"/>
<path d="M0.00,-2.50L-0.56,-0.77L-2.38,-0.77L-0.91,0.30L-1.47,2.02L-0.00,0.95L1.47,2.02L0.91,0.30L2.38,-0.77L0.56,-0.77Z" transform="translate(473.0,403.2) scale(0.74)" fill="#ffa500" fill-opacity="1" stroke="#ffa500" stroke-opacity="1" stroke-width="0.6" stroke-linejoin="round"/>
<path d="M0.00,-2.50L-0.56,-0.77L-2.38,-0.77L-0.91,0.30L-1.47,2.02L-0.00,0.95L1.47,2.02L0.91,0.30L2.38,-0.77L0.56,-0.77Z" transform="translate(429.2,386.8) scale(0.74)" fill="#0000ff" fill-opacity="1" stroke="#0000ff" stroke-opacity="1" stroke-width="0.6" stroke-linejoin="round"/>
<path d="M0.00,-2.50L-0.56,-0.77L-2.38,-0.77L-0.91,0.30L-1.47,2.02L-0.00,0.95L1.47,2.02L0.91,0.30L2.38,-0.77L0.56,-0.77Z" transform="translate(433.8,391.6) scale(0.74)" fill="#0000ff" fill-opacity="1" stroke="#0000ff" stroke-opacity="1" stroke-width="0.6" stroke-linejoin="round"/>
<path d="M0.00,-2.50L-0.56,-0.77L-2.38,-0.77L-0.91,0.30L-1.47,2.02L-0.00,0.95L1.47,2.02L0.91,0.30L2.38,-0.77L0.56,-0.77Z" transform="translate(476.5,396.9) scale(0.74)" fill="#0000ff" fill-opacity="1" stroke="#0000ff" stroke-opacity="1" stroke-width="0.6" stroke-linejoin="round"/>
<path d="M0.00,-2.50L-0.56,-0.77L-2.38,-0.77L-0.91,0.30L-1.47,2.02L-0.00,0.95L1.47,2.02L0.91,0.30L2.38,-0.77L0.56,-0.77Z" transform="translate(483.6,396.9) scale(0.74)" fill="#0000ff" fill-opacity="1" stroke="#0000ff" stroke-opacity="1" stroke-width="0.6" stroke-linejoin="round"/>
<path d="M0.00,-2.50L-0.56,-0.77L-2.38,-0.77L-0.91,0.30L-1.47,2.02L-0.00,0.95L1.47,2.02L0.91,0.30L2.38,-0.77L0.56,-0.77Z" transform="translate(565.6,400.9) scale(0.74)" fill="#8080ff" fill-opacity="1" stroke="#8080ff" stroke-opacity="1" stroke-width="0.6" stroke-linejoin="round"/>
<path d="M0.00,-2.50L-0.56,-0.77L-2.38,-0.77L-0.91,0.30L-1.47,2.02L-0.00,0.95L1.47,2.02L0.91,0.30L2.38,-0.77L0.56,-0.77Z" transform="translate(570.1,400.9) scale(0.74)" fill="#8080ff" fill-opacity="1" stroke="#8080ff" stroke-opacity="1" stroke-width="0.6" stroke-linejoin="round"/>
<path d="M0.00,-2.50L-0.56,-0.77L-2.38,-0.77L-0.91,0.30L-1.47,2.02L-0.00,0.95L1.47,2.02L0.91,0.30L2.38,-0.77L0.56,-0.77Z" transform="translate(556.5,401.5) scale(0.74)" fill="#ffd280" fill-opacity="1" stroke="#ffd280" stroke-opacity="1" stroke-width="0.6" stroke-linejoin="round"/>
<path d="M0.00,-2.50L-0.56,-0.77L-2.38,-0.77L-0.91,0.30L-1.47,2.02L-0.00,0.95L1.47,2.02L0.91,0.30L2.38,-0.77L0.56,-0.77Z" transform="translate(556.5,394.8) scale(0.74)" fill="#ffa500" fill-opacity="1" stroke="#ffa500" stroke-opacity="1" stroke-width="0.6" stroke-linejoin="round"/>
<path d="M0.00,-2.50L-0.56,-0.77L-2.38,-0.77L-0.91,0.30L-1.47,2.02L-0.00,0.95L1.47,2.02L0.91,0.30L2.38,-0.77L0.56,-0.77Z" transform="translate(527.7,392.1) scale(0.74)" fill="#0000ff" fill-opacity="1" stroke="#0000ff" stroke-opacity="1" stroke-width="0.6" stroke-linejoin="round"/>
<path d="M0.00,-2.50L-0.56,-0.77L-2.38,-0.77L-0.91,0.30L-1.47,2.02L-0.00,0.95L1.47,2.02L0.91,0.30L2.38,-0.77L0.56,-0.77Z" transform="translate(565.6,395.1) scale(0.74)" fill="#0000ff" fill-opacity="1" stroke="#0000ff" stroke-opacity="1" stroke-width="0.6" stroke-linejoin="round"/>
<path d="M0.00,-2.50L-0.56,-0.77L-2.38,-0.77L-0.91,0.30L-1.47,2.02L-0.00,0.95L1.47,2.02L0.91,0.30L2.38,-0.77L0.56,-0.77Z" transform="translate(570.1,395.1) scale(0.74)" fill="#0000ff" fill-opacity="1" stroke="#0000ff" stroke-opacity="1" stroke-width="0.6" stroke-linejoin="round"/>
<path d="M0.00,-2.50L-0.56,-0.77L-2.38,-0.77L-0.91,0.30L-1.47,2.02L-0.00,0.95L1.47,2.02L0.91,0.30L2.38,-0.77L0.56,-0.77Z" transform="translate(578.8,402.7) scale(0.74)" fill="#8080ff" fill-opacity="1" stroke="#8080ff" stroke-opacity="1" stroke-width="0.6" stroke-linejoin="round"/>
<path d="M0.00,-2.50L-0.56,-0.77L-2.38,-0.77L-0.91,0.30L-1.47,2.02L-0.00,0.95L1.47,2.02L0.91,0.30L2.38,-0.77L0.56,-0.77Z" transform="translate(570.0,395.1) scale(0.74)" fill="#0000ff" fill-opacity="1" stroke="#0000ff" stroke-opacity="1" stroke-width="0.6" stroke-linejoin="round"/>
<path d="M0.00,-2.50L-0.56,-0.77L-2.38,-0.77L-0.91,0.30L-1.47,2.02L-0.00,0.95L1.47,2.02L0.91,0.30L2.38,-0.77L0.56,-0.77Z" transform="translate(578.0,395.1) scale(0.74)" fill="#0000ff" fill-opacity="1" stroke="#0000ff" stroke-opacity="1" stroke-width="0.6" stroke-linejoin="round"/>
<path d="M0.00,-2.50L-0.56,-0.77L-2.38,-0.77L-0.91,0.30L-1.47,2.02L-0.00,0.95L1.47,2.02L0.91,0.30L2.38,-0.77L0.56,-0.77Z" transform="translate(578.8,397.4) scale(0.74)" fill="#0000ff" fill-opacity="1" stroke="#0000ff" stroke-opacity="1" stroke-width="0.6" stroke-linejoin="round"/>
<path d="M0.00,-2.50L-0.56,-0.77L-2.38,-0.77L-0.91,0.30L-1.47,2.02L-0.00,0.95L1.47,2.02L0.91,0.30L2.38,-0.77L0.56,-0.77Z" transform="translate(611.5,396.2) scale(0.74)" fill="#0000ff" fill-opacity="1" stroke="#0000ff" stroke-opacity="1" stroke-width="0.6" stroke-linejoin="round"/>
<path d="M0.00,-2.50L-0.56,-0.77L-2.38,-0.77L-0.91,0.30L-1.47,2.02L-0.00,0.95L1.47,2.02L0.91,0.30L2.38,-0.77L0.56,-0.77Z" transform="translate(610.3,395.1) scale(0.74)" fill="#0000ff" fill-opacity="1" stroke="#0000ff" stroke-opacity="1" stroke-width="0.6" stroke-linejoin="round"/>
</g>
<line x1="641.1" y1="18.5" x2="641.1" y2="187.8" stroke="#86b6da" stroke-width="1.3"/>
<line x1="641.1" y1="187.8" x2="66.1" y2="259.4" stroke="#2588c8" stroke-width="1.1"/>
<line x1="66.1" y1="259.4" x2="66.1" y2="428.5" stroke="#86b6da" stroke-width="1.3"/>
<rect x="38.6" y="23.6" width="127.8" height="64.1" rx="2.5" fill="#fff" fill-opacity="0.8" stroke="#d4d4d4" stroke-width="0.9"/>
<line x1="42.4" y1="32.1" x2="63.5" y2="32.1" stroke="#8c8c8c" stroke-width="1.6"/>
<line x1="42.4" y1="47.0" x2="63.5" y2="47.0" stroke="#9ad39a" stroke-width="1"/>
<path d="M0.00,-2.50L-0.56,-0.77L-2.38,-0.77L-0.91,0.30L-1.47,2.02L-0.00,0.95L1.47,2.02L0.91,0.30L2.38,-0.77L0.56,-0.77Z" transform="translate(53.0,63.5) scale(0.95)" fill="#0000ff" fill-opacity="1" stroke="#0000ff" stroke-opacity="1" stroke-width="0.6" stroke-linejoin="round"/>
<path d="M0.00,-2.50L-0.56,-0.77L-2.38,-0.77L-0.91,0.30L-1.47,2.02L-0.00,0.95L1.47,2.02L0.91,0.30L2.38,-0.77L0.56,-0.77Z" transform="translate(53.0,79.3) scale(0.95)" fill="#ffa500" fill-opacity="1" stroke="#ffa500" stroke-opacity="1" stroke-width="0.6" stroke-linejoin="round"/>
<text x="71.26" y="35.60" font-size="10.6" textLength="91.18" lengthAdjust="spacingAndGlyphs" fill="#000" stroke="#000" stroke-width="0.15" >Every 200 events</text>
<text x="71.26" y="50.60" font-size="10.6" textLength="91.18" lengthAdjust="spacingAndGlyphs" fill="#000" stroke="#000" stroke-width="0.15" >Every 100 events</text>
<text x="71.85" y="65.60" font-size="10.6" textLength="17.18" lengthAdjust="spacingAndGlyphs" fill="#000" stroke="#000" stroke-width="0.15" >4.0</text>
<text x="91.47" y="65.60" font-size="10.6" textLength="7.95" lengthAdjust="spacingAndGlyphs" fill="#000" stroke="#000" stroke-width="0.15" >≤</text>
<text x="102.77" y="65.60" font-size="10.6" textLength="8.64" lengthAdjust="spacingAndGlyphs" fill="#000" stroke="#000" stroke-width="0.15" >M</text>
<text x="110.93" y="67.70" font-size="7.632" textLength="5.08" lengthAdjust="spacingAndGlyphs" font-style="italic" fill="#000" stroke="#000" stroke-width="0.15" >L</text>
<text x="119.96" y="65.60" font-size="10.6" textLength="8.26" lengthAdjust="spacingAndGlyphs" fill="#000" stroke="#000" stroke-width="0.15" >&lt;</text>
<text x="131.31" y="65.60" font-size="10.6" textLength="17.13" lengthAdjust="spacingAndGlyphs" fill="#000" stroke="#000" stroke-width="0.15" >5.0</text>
<text x="71.60" y="81.50" font-size="10.6" textLength="17.44" lengthAdjust="spacingAndGlyphs" fill="#000" stroke="#000" stroke-width="0.15" >5.0</text>
<text x="91.47" y="81.50" font-size="10.6" textLength="7.95" lengthAdjust="spacingAndGlyphs" fill="#000" stroke="#000" stroke-width="0.15" >≤</text>
<text x="102.77" y="81.50" font-size="10.6" textLength="8.64" lengthAdjust="spacingAndGlyphs" fill="#000" stroke="#000" stroke-width="0.15" >M</text>
<text x="110.93" y="83.60" font-size="7.632" textLength="5.08" lengthAdjust="spacingAndGlyphs" font-style="italic" fill="#000" stroke="#000" stroke-width="0.15" >L</text>
<text x="119.96" y="81.50" font-size="10.6" textLength="8.26" lengthAdjust="spacingAndGlyphs" fill="#000" stroke="#000" stroke-width="0.15" >&lt;</text>
<text x="131.18" y="81.50" font-size="10.6" textLength="17.26" lengthAdjust="spacingAndGlyphs" fill="#000" stroke="#000" stroke-width="0.15" >6.0</text>
<rect x="37.7" y="263.8" width="109.8" height="54.6" rx="2.2" fill="#fff" fill-opacity="0.8" stroke="#d4d4d4" stroke-width="0.9"/>
<line x1="41.0" y1="270.7" x2="59.6" y2="270.7" stroke="#222" stroke-width="1.2"/>
<line x1="41.0" y1="283.5" x2="59.6" y2="283.5" stroke="#9ad39a" stroke-width="1"/>
<path d="M0.00,-2.50L-0.56,-0.77L-2.38,-0.77L-0.91,0.30L-1.47,2.02L-0.00,0.95L1.47,2.02L0.91,0.30L2.38,-0.77L0.56,-0.77Z" transform="translate(50.0,297.2) scale(0.95)" fill="#0000ff" fill-opacity="1" stroke="#0000ff" stroke-opacity="1" stroke-width="0.6" stroke-linejoin="round"/>
<path d="M0.00,-2.50L-0.56,-0.77L-2.38,-0.77L-0.91,0.30L-1.47,2.02L-0.00,0.95L1.47,2.02L0.91,0.30L2.38,-0.77L0.56,-0.77Z" transform="translate(50.0,310.5) scale(0.95)" fill="#ffa500" fill-opacity="1" stroke="#ffa500" stroke-opacity="1" stroke-width="0.6" stroke-linejoin="round"/>
<text x="65.99" y="273.90" font-size="9.2" textLength="77.77" lengthAdjust="spacingAndGlyphs" fill="#000" stroke="#000" stroke-width="0.15" >Every 200 events</text>
<text x="65.99" y="286.90" font-size="9.2" textLength="77.77" lengthAdjust="spacingAndGlyphs" fill="#000" stroke="#000" stroke-width="0.15" >Every 100 events</text>
<text x="66.59" y="300.20" font-size="9.2" textLength="14.79" lengthAdjust="spacingAndGlyphs" fill="#000" stroke="#000" stroke-width="0.15" >4.0</text>
<text x="83.42" y="300.20" font-size="9.2" textLength="6.94" lengthAdjust="spacingAndGlyphs" fill="#000" stroke="#000" stroke-width="0.15" >≤</text>
<text x="93.18" y="300.20" font-size="9.2" textLength="7.53" lengthAdjust="spacingAndGlyphs" fill="#000" stroke="#000" stroke-width="0.15" >M</text>
<text x="100.35" y="302.00" font-size="6.624" textLength="4.72" lengthAdjust="spacingAndGlyphs" font-style="italic" fill="#000" stroke="#000" stroke-width="0.15" >L</text>
<text x="107.85" y="300.20" font-size="9.2" textLength="7.20" lengthAdjust="spacingAndGlyphs" fill="#000" stroke="#000" stroke-width="0.15" >&lt;</text>
<text x="117.77" y="300.20" font-size="9.2" textLength="15.12" lengthAdjust="spacingAndGlyphs" fill="#000" stroke="#000" stroke-width="0.15" >5.0</text>
<text x="66.37" y="313.50" font-size="9.2" textLength="15.01" lengthAdjust="spacingAndGlyphs" fill="#000" stroke="#000" stroke-width="0.15" >5.0</text>
<text x="83.42" y="313.50" font-size="9.2" textLength="6.94" lengthAdjust="spacingAndGlyphs" fill="#000" stroke="#000" stroke-width="0.15" >≤</text>
<text x="93.18" y="313.50" font-size="9.2" textLength="7.53" lengthAdjust="spacingAndGlyphs" fill="#000" stroke="#000" stroke-width="0.15" >M</text>
<text x="100.35" y="315.30" font-size="6.624" textLength="4.72" lengthAdjust="spacingAndGlyphs" font-style="italic" fill="#000" stroke="#000" stroke-width="0.15" >L</text>
<text x="107.85" y="313.50" font-size="9.2" textLength="7.20" lengthAdjust="spacingAndGlyphs" fill="#000" stroke="#000" stroke-width="0.15" >&lt;</text>
<text x="117.65" y="313.50" font-size="9.2" textLength="15.23" lengthAdjust="spacingAndGlyphs" fill="#000" stroke="#000" stroke-width="0.15" >6.0</text>
<rect x="33.5" y="18.5" width="619.0" height="169.3" fill="none" stroke="#3a3a3a" stroke-width="0.95"/>
<rect x="33.5" y="259.4" width="619.0" height="169.10000000000002" fill="none" stroke="#3a3a3a" stroke-width="0.95"/>
<line x1="30.2" y1="34.50" x2="33.5" y2="34.50" stroke="#333" stroke-width="0.9"/>
<text x="16.27" y="38.00" font-size="7.9" textLength="11.98" lengthAdjust="spacingAndGlyphs" fill="#000" stroke="#000" stroke-width="0.15" >2.5</text>
<line x1="30.2" y1="67.20" x2="33.5" y2="67.20" stroke="#333" stroke-width="0.9"/>
<text x="16.27" y="70.70" font-size="7.9" textLength="11.93" lengthAdjust="spacingAndGlyphs" fill="#000" stroke="#000" stroke-width="0.15" >2.0</text>
<line x1="30.2" y1="99.90" x2="33.5" y2="99.90" stroke="#333" stroke-width="0.9"/>
<text x="16.04" y="103.40" font-size="7.9" textLength="12.21" lengthAdjust="spacingAndGlyphs" fill="#000" stroke="#000" stroke-width="0.15" >1.5</text>
<line x1="30.2" y1="132.60" x2="33.5" y2="132.60" stroke="#333" stroke-width="0.9"/>
<text x="16.04" y="136.10" font-size="7.9" textLength="12.16" lengthAdjust="spacingAndGlyphs" fill="#000" stroke="#000" stroke-width="0.15" >1.0</text>
<line x1="30.2" y1="165.30" x2="33.5" y2="165.30" stroke="#333" stroke-width="0.9"/>
<text x="16.40" y="168.80" font-size="7.9" textLength="11.84" lengthAdjust="spacingAndGlyphs" fill="#000" stroke="#000" stroke-width="0.15" >0.5</text>
<line x1="30.2" y1="275.20" x2="33.5" y2="275.20" stroke="#333" stroke-width="0.9"/>
<text x="16.27" y="278.70" font-size="7.9" textLength="11.98" lengthAdjust="spacingAndGlyphs" fill="#000" stroke="#000" stroke-width="0.15" >2.5</text>
<line x1="30.2" y1="307.87" x2="33.5" y2="307.87" stroke="#333" stroke-width="0.9"/>
<text x="16.27" y="311.37" font-size="7.9" textLength="11.93" lengthAdjust="spacingAndGlyphs" fill="#000" stroke="#000" stroke-width="0.15" >2.0</text>
<line x1="30.2" y1="340.53" x2="33.5" y2="340.53" stroke="#333" stroke-width="0.9"/>
<text x="16.04" y="344.03" font-size="7.9" textLength="12.21" lengthAdjust="spacingAndGlyphs" fill="#000" stroke="#000" stroke-width="0.15" >1.5</text>
<line x1="30.2" y1="373.19" x2="33.5" y2="373.19" stroke="#333" stroke-width="0.9"/>
<text x="16.04" y="376.69" font-size="7.9" textLength="12.16" lengthAdjust="spacingAndGlyphs" fill="#000" stroke="#000" stroke-width="0.15" >1.0</text>
<line x1="30.2" y1="405.86" x2="33.5" y2="405.86" stroke="#333" stroke-width="0.9"/>
<text x="16.40" y="409.36" font-size="7.9" textLength="11.84" lengthAdjust="spacingAndGlyphs" fill="#000" stroke="#000" stroke-width="0.15" >0.5</text>
<line x1="62.50" y1="187.8" x2="62.50" y2="190.8" stroke="#333" stroke-width="0.9"/>
<g transform="rotate(-13 62.50 199.8)">
<text x="47.49" y="202.55" font-size="7.9" textLength="29.93" lengthAdjust="spacingAndGlyphs" fill="#000" stroke="#000" stroke-width="0.15" >2017-03</text>
</g>
<line x1="115.39" y1="187.8" x2="115.39" y2="190.8" stroke="#333" stroke-width="0.9"/>
<g transform="rotate(-13 115.39 199.8)">
<text x="100.39" y="202.55" font-size="7.9" textLength="29.81" lengthAdjust="spacingAndGlyphs" fill="#000" stroke="#000" stroke-width="0.15" >2017-04</text>
</g>
<line x1="166.58" y1="187.8" x2="166.58" y2="190.8" stroke="#333" stroke-width="0.9"/>
<g transform="rotate(-13 166.58 199.8)">
<text x="151.57" y="202.55" font-size="7.9" textLength="29.93" lengthAdjust="spacingAndGlyphs" fill="#000" stroke="#000" stroke-width="0.15" >2017-05</text>
</g>
<line x1="219.47" y1="187.8" x2="219.47" y2="190.8" stroke="#333" stroke-width="0.9"/>
<g transform="rotate(-13 219.47 199.8)">
<text x="204.46" y="202.55" font-size="7.9" textLength="29.93" lengthAdjust="spacingAndGlyphs" fill="#000" stroke="#000" stroke-width="0.15" >2017-06</text>
</g>
<line x1="270.66" y1="187.8" x2="270.66" y2="190.8" stroke="#333" stroke-width="0.9"/>
<g transform="rotate(-13 270.66 199.8)">
<text x="255.65" y="202.55" font-size="7.9" textLength="29.98" lengthAdjust="spacingAndGlyphs" fill="#000" stroke="#000" stroke-width="0.15" >2017-07</text>
</g>
<line x1="323.55" y1="187.8" x2="323.55" y2="190.8" stroke="#333" stroke-width="0.9"/>
<g transform="rotate(-13 323.55 199.8)">
<text x="308.54" y="202.55" font-size="7.9" textLength="29.93" lengthAdjust="spacingAndGlyphs" fill="#000" stroke="#000" stroke-width="0.15" >2017-08</text>
</g>
<line x1="376.44" y1="187.8" x2="376.44" y2="190.8" stroke="#333" stroke-width="0.9"/>
<g transform="rotate(-13 376.44 199.8)">
<text x="361.43" y="202.55" font-size="7.9" textLength="29.98" lengthAdjust="spacingAndGlyphs" fill="#000" stroke="#000" stroke-width="0.15" >2017-09</text>
</g>
<line x1="427.63" y1="187.8" x2="427.63" y2="190.8" stroke="#333" stroke-width="0.9"/>
<g transform="rotate(-13 427.63 199.8)">
<text x="412.62" y="202.55" font-size="7.9" textLength="29.89" lengthAdjust="spacingAndGlyphs" fill="#000" stroke="#000" stroke-width="0.15" >2017-10</text>
</g>
<line x1="480.52" y1="187.8" x2="480.52" y2="190.8" stroke="#333" stroke-width="0.9"/>
<g transform="rotate(-13 480.52 199.8)">
<text x="465.50" y="202.55" font-size="7.9" textLength="30.00" lengthAdjust="spacingAndGlyphs" fill="#000" stroke="#000" stroke-width="0.15" >2017-11</text>
</g>
<line x1="531.70" y1="187.8" x2="531.70" y2="190.8" stroke="#333" stroke-width="0.9"/>
<g transform="rotate(-13 531.70 199.8)">
<text x="516.70" y="202.55" font-size="7.9" textLength="29.98" lengthAdjust="spacingAndGlyphs" fill="#000" stroke="#000" stroke-width="0.15" >2017-12</text>
</g>
<line x1="584.60" y1="187.8" x2="584.60" y2="190.8" stroke="#333" stroke-width="0.9"/>
<g transform="rotate(-13 584.60 199.8)">
<text x="569.59" y="202.55" font-size="7.9" textLength="29.98" lengthAdjust="spacingAndGlyphs" fill="#000" stroke="#000" stroke-width="0.15" >2018-01</text>
</g>
<line x1="637.49" y1="187.8" x2="637.49" y2="190.8" stroke="#333" stroke-width="0.9"/>
<g transform="rotate(-13 637.49 199.8)">
<text x="622.48" y="202.55" font-size="7.9" textLength="29.98" lengthAdjust="spacingAndGlyphs" fill="#000" stroke="#000" stroke-width="0.15" >2018-02</text>
</g>
<line x1="66.10" y1="428.5" x2="66.10" y2="431.5" stroke="#333" stroke-width="0.9"/>
<text x="49.51" y="439.30" font-size="7.9" textLength="33.21" lengthAdjust="spacingAndGlyphs" fill="#000" stroke="#000" stroke-width="0.15" >02-03 00</text>
<line x1="142.40" y1="428.5" x2="142.40" y2="431.5" stroke="#333" stroke-width="0.9"/>
<text x="125.80" y="439.30" font-size="7.9" textLength="33.30" lengthAdjust="spacingAndGlyphs" fill="#000" stroke="#000" stroke-width="0.15" >02-03 12</text>
<line x1="218.69" y1="428.5" x2="218.69" y2="431.5" stroke="#333" stroke-width="0.9"/>
<text x="202.10" y="439.30" font-size="7.9" textLength="33.21" lengthAdjust="spacingAndGlyphs" fill="#000" stroke="#000" stroke-width="0.15" >02-04 00</text>
<line x1="294.99" y1="428.5" x2="294.99" y2="431.5" stroke="#333" stroke-width="0.9"/>
<text x="278.39" y="439.30" font-size="7.9" textLength="33.30" lengthAdjust="spacingAndGlyphs" fill="#000" stroke="#000" stroke-width="0.15" >02-04 12</text>
<line x1="371.28" y1="428.5" x2="371.28" y2="431.5" stroke="#333" stroke-width="0.9"/>
<text x="354.69" y="439.30" font-size="7.9" textLength="33.21" lengthAdjust="spacingAndGlyphs" fill="#000" stroke="#000" stroke-width="0.15" >02-05 00</text>
<line x1="447.58" y1="428.5" x2="447.58" y2="431.5" stroke="#333" stroke-width="0.9"/>
<text x="430.98" y="439.30" font-size="7.9" textLength="33.30" lengthAdjust="spacingAndGlyphs" fill="#000" stroke="#000" stroke-width="0.15" >02-05 12</text>
<line x1="523.88" y1="428.5" x2="523.88" y2="431.5" stroke="#333" stroke-width="0.9"/>
<text x="507.28" y="439.30" font-size="7.9" textLength="33.21" lengthAdjust="spacingAndGlyphs" fill="#000" stroke="#000" stroke-width="0.15" >02-06 00</text>
<line x1="600.17" y1="428.5" x2="600.17" y2="431.5" stroke="#333" stroke-width="0.9"/>
<text x="583.58" y="439.30" font-size="7.9" textLength="33.30" lengthAdjust="spacingAndGlyphs" fill="#000" stroke="#000" stroke-width="0.15" >02-06 12</text>
<text x="329.69" y="219.60" font-size="13.2" textLength="26.67" lengthAdjust="spacingAndGlyphs" fill="#000" stroke="#000" stroke-width="0.1" >time</text>
<text x="329.69" y="451.90" font-size="13.2" textLength="26.77" lengthAdjust="spacingAndGlyphs" fill="#000" stroke="#000" stroke-width="0.1" >time</text>
<g transform="translate(10.1 125.3) rotate(-90)">
<text x="-0.12" y="0.00" font-size="13.2" textLength="6.42" lengthAdjust="spacingAndGlyphs" font-style="italic" fill="#000" stroke="#000" stroke-width="0.1" >b</text>
<text x="7.16" y="0.00" font-size="13.2" textLength="36.66" lengthAdjust="spacingAndGlyphs" fill="#000" stroke="#000" stroke-width="0.1" >-value</text>
</g>
<g transform="translate(10.1 365.5) rotate(-90)">
<text x="-0.12" y="0.00" font-size="13.2" textLength="6.42" lengthAdjust="spacingAndGlyphs" font-style="italic" fill="#000" stroke="#000" stroke-width="0.1" >b</text>
<text x="7.16" y="0.00" font-size="13.2" textLength="36.66" lengthAdjust="spacingAndGlyphs" fill="#000" stroke="#000" stroke-width="0.1" >-value</text>
</g>
<text x="3.63" y="14.30" font-size="12.5" textLength="4.25" lengthAdjust="spacingAndGlyphs" font-weight="bold" fill="#000" stroke="#000" stroke-width="0.1" >(</text>
<text x="9.36" y="14.80" font-size="14" textLength="7.52" lengthAdjust="spacingAndGlyphs" font-weight="bold" fill="#000" stroke="#000" stroke-width="0.1" >a</text>
<text x="19.00" y="14.30" font-size="12.5" textLength="4.56" lengthAdjust="spacingAndGlyphs" font-weight="bold" fill="#000" stroke="#000" stroke-width="0.1" >)</text>
<text x="26.66" y="13.70" font-size="15.9" textLength="189.18" lengthAdjust="spacingAndGlyphs" fill="#000" stroke="#000" stroke-width="0.1" >The temporal variation of</text>
<text x="220.46" y="13.70" font-size="15.9" textLength="7.59" lengthAdjust="spacingAndGlyphs" font-style="italic" fill="#000" stroke="#000" stroke-width="0.1" >b</text>
<text x="228.02" y="13.70" font-size="15.9" textLength="268.35" lengthAdjust="spacingAndGlyphs" fill="#000" stroke="#000" stroke-width="0.1" >-value 1 year before the 2018 Feb 6</text>
<text x="496.52" y="7.70" font-size="11.129999999999999" textLength="10.67" lengthAdjust="spacingAndGlyphs" font-style="italic" fill="#000" stroke="#000" stroke-width="0.15" >th</text>
<text x="512.35" y="13.70" font-size="15.9" textLength="146.28" lengthAdjust="spacingAndGlyphs" fill="#000" stroke="#000" stroke-width="0.1" >Hualien earthquake</text>
<text x="2.65" y="235.40" font-size="12.5" textLength="4.82" lengthAdjust="spacingAndGlyphs" font-weight="bold" fill="#000" stroke="#000" stroke-width="0.1" >(</text>
<text x="8.46" y="235.90" font-size="13.2" textLength="9.80" lengthAdjust="spacingAndGlyphs" font-weight="bold" fill="#000" stroke="#000" stroke-width="0.1" >b</text>
<text x="19.00" y="235.40" font-size="12.5" textLength="4.56" lengthAdjust="spacingAndGlyphs" font-weight="bold" fill="#000" stroke="#000" stroke-width="0.1" >)</text>
<text x="1.06" y="253.60" font-size="15.9" textLength="188.28" lengthAdjust="spacingAndGlyphs" fill="#000" stroke="#000" stroke-width="0.1" >The temporal variation of</text>
<text x="193.24" y="253.60" font-size="15.9" textLength="9.09" lengthAdjust="spacingAndGlyphs" font-style="italic" fill="#000" stroke="#000" stroke-width="0.1" >b</text>
<text x="201.93" y="253.60" font-size="15.9" textLength="173.43" lengthAdjust="spacingAndGlyphs" fill="#000" stroke="#000" stroke-width="0.1" >-value from 2018 Feb 3</text>
<text x="375.81" y="247.60" font-size="11.129999999999999" textLength="11.10" lengthAdjust="spacingAndGlyphs" font-style="italic" fill="#000" stroke="#000" stroke-width="0.15" >rd</text>
<text x="391.75" y="253.60" font-size="15.9" textLength="132.32" lengthAdjust="spacingAndGlyphs" fill="#000" stroke="#000" stroke-width="0.1" >to the 2018 Feb 6</text>
<text x="523.51" y="247.60" font-size="11.129999999999999" textLength="10.90" lengthAdjust="spacingAndGlyphs" font-style="italic" fill="#000" stroke="#000" stroke-width="0.15" >th</text>
<text x="539.86" y="253.60" font-size="15.9" textLength="145.47" lengthAdjust="spacingAndGlyphs" fill="#000" stroke="#000" stroke-width="0.1" >Hualien earthquake</text>
<path d="M64.0,417.0 L68.2,417.0 L68.2,424.3 L71.6,424.3 L66.1,428.3 L60.6,424.3 L64.0,424.3 Z" fill="#000"/>
<text x="40.33" y="415.70" font-size="10.9" textLength="57.93" lengthAdjust="spacingAndGlyphs" fill="#000" stroke="#000" stroke-width="0.15" >2018 Feb 3</text>
<text x="99.18" y="411.00" font-size="7.848" textLength="6.88" lengthAdjust="spacingAndGlyphs" font-style="italic" fill="#000" stroke="#000" stroke-width="0.15" >rd</text>
<text x="110.61" y="415.70" font-size="10.9" textLength="61.73" lengthAdjust="spacingAndGlyphs" fill="#000" stroke="#000" stroke-width="0.15" >00:00 (UTC)</text>
</svg>
</body></html>
